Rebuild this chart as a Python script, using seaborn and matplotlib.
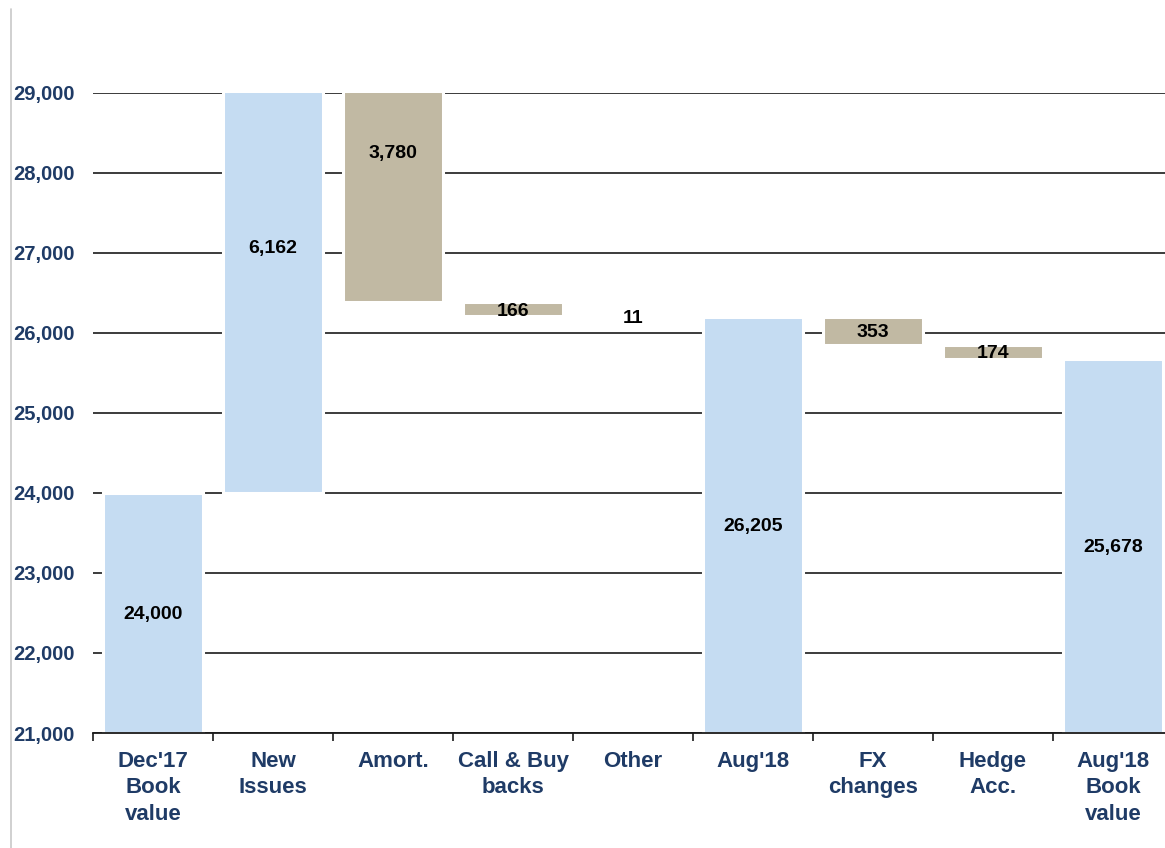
import matplotlib
matplotlib.use("Agg")
import matplotlib.pyplot as plt
from matplotlib.lines import Line2D
from matplotlib.ticker import FuncFormatter, FixedLocator
import seaborn as sns
import numpy as np

# ---- data ----
categories = ["Dec'17\nBook\nvalue", "New\nIssues", "Amort.", "Call & Buy\nbacks", "Other",
              "Aug'18", "FX\nchanges", "Hedge\nAcc.", "Aug'18\nBook\nvalue"]
values = [24000, 6162, -3780, -166, -11, 26205, -353, -174, 25678]
is_total = [True, False, False, False, False, True, False, False, True]
value_labels = ["24,000", "6,162", "3,780", "166", "11", "26,205", "353", "174", "25,678"]
y_ticks = [21000, 22000, 23000, 24000, 25000, 26000, 27000, 28000, 29000]

BASE = 21000
BLUE = "#C5DCF2"
TAN = "#C1B9A3"
NAVY = "#1F3B66"

# waterfall geometry from data
bottoms, heights, colors = [], [], []
running = 0
for v, tot in zip(values, is_total):
    if tot:
        running = v
        bottoms.append(BASE)
        heights.append(v - BASE)
        colors.append(BLUE)
    else:
        new = running + v
        bottoms.append(min(running, new))
        heights.append(abs(v))
        colors.append(BLUE if v > 0 else TAN)
        running = new

sns.set_theme(style="white")
plt.rcParams["font.family"] = ["Liberation Sans", "DejaVu Sans"]
plt.rcParams["font.weight"] = "bold"

fig = plt.figure(figsize=(11.65, 8.48), dpi=100)
ax = fig.add_axes([93 / 1165, (848 - 733) / 848, (1173 - 93) / 1165, (733 - 93) / 848])

ax.yaxis.grid(True, color="#1a1a1a", linewidth=1.2)
ax.set_axisbelow(True)

sns.barplot(x=categories, y=heights, hue=categories, palette=colors, legend=False,
            order=categories, width=0.833, edgecolor="white", linewidth=2.2, ax=ax,
            saturation=1)
for patch, b, h in zip(ax.patches, bottoms, heights):
    patch.set_y(b)
    patch.set_height(h)

for i, (b, h, lab) in enumerate(zip(bottoms, heights, value_labels)):
    ax.text(i, b + h / 2, lab, ha="center", va="center_baseline", fontsize=14,
            fontweight="bold", color="black")

ax.set_xlim(-0.5, len(categories) - 0.5)
ax.set_ylim(y_ticks[0], y_ticks[-1])
ax.set_yticks(y_ticks)
ax.yaxis.set_major_formatter(FuncFormatter(lambda v, p: f"{int(v):,}"))
ax.tick_params(axis="y", length=0, pad=13, labelsize=14.5, labelcolor=NAVY)
ax.tick_params(axis="x", which="major", length=0, pad=13, labelsize=16, labelcolor=NAVY)
ax.xaxis.set_minor_locator(FixedLocator(np.arange(-0.5, len(categories), 1.0)))
ax.tick_params(axis="x", which="minor", bottom=True, length=6, width=1.2,
               color="#1a1a1a", direction="out")
for t in ax.get_xticklabels():
    t.set_linespacing(1.33)
    t.set_fontweight("bold")
for t in ax.get_yticklabels():
    t.set_fontweight("bold")
ax.set_xlabel("")
ax.set_ylabel("")

for s in ["top", "right", "left"]:
    ax.spines[s].set_visible(False)
ax.spines["bottom"].set_color("#1a1a1a")
ax.spines["bottom"].set_linewidth(1.3)

fig.add_artist(Line2D([10.5 / 1165, 10.5 / 1165], [0, 1 - 9 / 848],
                      transform=fig.transFigure, color="#C8C8C8", linewidth=1.2))

fig.savefig("out.png", dpi=100)
